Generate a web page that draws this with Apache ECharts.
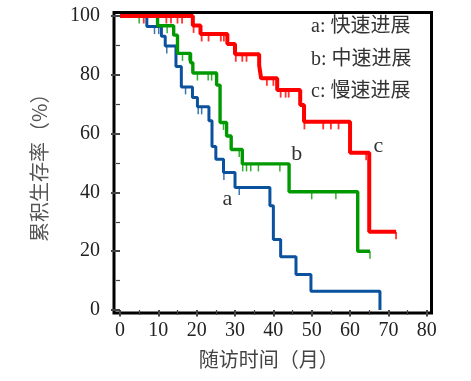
<!DOCTYPE html>
<html><head><meta charset="utf-8">
<script src="https://cdn.jsdelivr.net/npm/echarts@6/dist/echarts.min.js"></script>
<style>html,body{margin:0;padding:0;background:#fff}#c{width:471px;height:381px}</style>
</head><body><div id="c"></div>
<script>
// Tick values
const xMajorTicks = [0, 10, 20, 30, 40, 50, 60, 70, 80];
const xMinorTicks = [5, 15, 25, 35, 45, 55, 65, 75];
const yMajorTicks = [0, 20, 40, 60, 80, 100];
const yMinorTicks = [10, 30, 50, 70, 90];

// Group a: 快速进展 (blue)
const aTimes = [0, 7, 10.8, 11.8, 14.6, 16, 18.9, 20.2, 23.2, 24.0, 25.0, 27, 30, 39.1, 40, 41.9, 45.9, 49.8, 67.8];
const aSurv  = [100, 96.4, 93.1, 89.8, 82.8, 75.9, 72.3, 69.1, 64.4, 55.6, 51.3, 46.8, 41.7, 35.5, 24, 18.1, 12.1, 6.4, 0];
const aCensor = [9, 10.1, 12.2, 17.1, 20.4, 21.3, 27.1, 31.1];

// Group b: 中速进展 (green)
const bTimes = [0, 9.8, 14, 15, 18.4, 19, 25.2, 26.1, 27.8, 29, 31.9, 44.1, 62, 65.2];
const bSurv  = [100, 96.7, 93.5, 87.3, 84.1, 80.6, 76.5, 63.8, 59.2, 54.6, 49.7, 40.2, 20, 20];
const bCensor = [5, 12.3, 16.3, 18, 20.2, 23, 23.9, 27, 31.1, 32, 33, 34.1, 36.1, 41.7, 50, 56.3, 65.2];

// Group c: 慢速进展 (red)
const cTimes = [0, 19, 21, 28, 30, 36.3, 36.8, 41, 47, 48, 60, 65, 72];
const cSurv  = [100, 96.8, 93.9, 90.5, 87, 83.2, 78.8, 74.8, 69.7, 64, 53.5, 26.6, 26.6];
const cCensor = [6.2, 12.1, 13.3, 15, 16.2, 19.2, 21.3, 23.1, 26.3, 27.1, 30.2, 31.9, 33, 38.3, 40, 41.9, 43.2, 44, 48.1, 53, 55, 57, 64.2, 72];

const legendLines = ['a: 快速进展', 'b: 中速进展', 'c: 慢速进展'];
const curveLabels = ['a', 'b', 'c'];
const curveLabelPos = [[28.0, 37.8], [46.1, 53], [67.4, 55.8]];

const xName = '随访时间（月）';
const yName = '累积生存率（%）';

function survAt(times, surv, t) {
  let s = surv[0];
  for (let i = 0; i < times.length; i++) if (times[i] <= t) s = surv[i];
  return s;
}
function zip(xs, ys) { return xs.map((x, i) => [x, ys[i]]); }

const groups = [
  {times: aTimes, surv: aSurv, censor: aCensor, color: '#0a519e', width: 3, tickW: 1.5, label: curveLabels[0], pos: curveLabelPos[0]},
  {times: bTimes, surv: bSurv, censor: bCensor, color: '#009a00', width: 3.4, tickW: 1.5, label: curveLabels[1], pos: curveLabelPos[1]},
  {times: cTimes, surv: cSurv, censor: cCensor, color: '#ff0000', width: 4, tickW: 1.8, label: curveLabels[2], pos: curveLabelPos[2]}
];

const series = [];
groups.forEach((g, i) => {
  series.push({
    type: 'line', step: 'end', data: zip(g.times, g.surv), showSymbol: false, symbol: 'none',
    lineStyle: {color: g.color, width: g.width}, z: 2 + i, silent: true,
    markPoint: {
      symbol: 'circle', symbolSize: 1, itemStyle: {color: 'rgba(0,0,0,0)'},
      label: {show: true, position: 'inside', formatter: g.label, color: '#333',
              fontFamily: "'Liberation Serif', serif", fontSize: 22},
      data: [{coord: g.pos}]
    }
  });
  series.push({
    type: 'scatter', data: g.censor.map(t => [t, survAt(g.times, g.surv, t)]),
    symbol: 'rect', symbolSize: [g.tickW, 7.5], symbolOffset: [0, 3.75],
    itemStyle: {color: g.color}, z: 2 + i, silent: true
  });
});

const labelFont = {fontFamily: "'Liberation Serif', serif", fontSize: 20, color: '#222'};

const chart = echarts.init(document.getElementById('c'), null, {renderer: 'canvas'});
chart.setOption({
  animation: false,
  backgroundColor: '#fff',
  grid: {left: 114, top: 12.5, right: 39.5, bottom: 68, show: true, borderColor: '#000', borderWidth: 3, backgroundColor: 'transparent', containLabel: false},
  xAxis: [
    {type: 'value', min: -1.56, max: 81.24, position: 'bottom',
     axisLine: {show: false}, splitLine: {show: false},
     axisTick: {show: true, customValues: xMajorTicks, length: 6.5, lineStyle: {color: '#444', width: 2}},
     axisLabel: {show: true, customValues: xMajorTicks, margin: 8, ...labelFont},
     name: xName, nameLocation: 'middle', nameGap: 36,
     nameTextStyle: {fontFamily: "'Noto Sans CJK SC', sans-serif", fontSize: 20, color: '#444', padding: [0, 8, 0, 0]}},
    {type: 'value', min: -1.56, max: 81.24, position: 'bottom',
     axisLine: {show: false}, splitLine: {show: false},
     axisTick: {show: true, customValues: xMinorTicks, length: 5, lineStyle: {color: '#444', width: 1.2}},
     axisLabel: {show: false}}
  ],
  yAxis: [
    {type: 'value', min: -1.02, max: 101.2, position: 'left',
     axisLine: {show: false}, splitLine: {show: false},
     axisTick: {show: true, customValues: yMajorTicks, length: 9, lineStyle: {color: '#444', width: 2}},
     axisLabel: {show: true, customValues: yMajorTicks, margin: 14, ...labelFont},
     name: yName, nameLocation: 'middle', nameGap: 65, nameRotate: 90,
     nameTextStyle: {fontFamily: "'Noto Sans CJK SC', sans-serif", fontSize: 20, color: '#555'}},
    {type: 'value', min: -1.02, max: 101.2, position: 'left',
     axisLine: {show: false}, splitLine: {show: false},
     axisTick: {show: true, customValues: yMinorTicks, length: 4, lineStyle: {color: '#444', width: 1.2}},
     axisLabel: {show: false}}
  ],
  graphic: legendLines.map((t, i) => ({
    type: 'text', x: 311, y: 27 + i * 32.5, silent: true,
    style: {text: t, fill: '#333', fontSize: 20, fontFamily: "'Liberation Serif', 'Noto Sans CJK SC', serif", verticalAlign: 'middle', align: 'left'}
  })),
  series: series
});
</script>
</body></html>
